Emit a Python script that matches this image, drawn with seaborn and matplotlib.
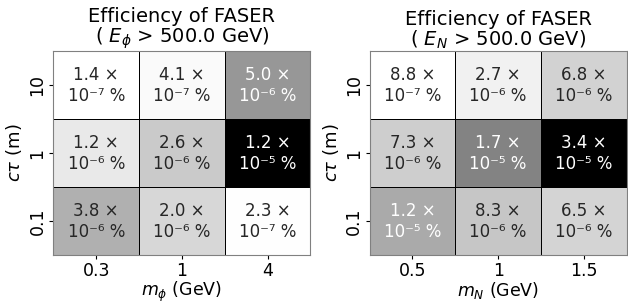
import numpy as np
import matplotlib
matplotlib.use("Agg")
import matplotlib.pyplot as plt
import seaborn as sns

# efficiency (%) rows: c tau = 10, 1, 0.1
ctau_labels = ["10", "1", "0.1"]
mphi_labels = ["0.3", "1", "4"]
mN_labels = ["0.5", "1", "1.5"]

eff_phi = np.array([[1.4e-7, 4.1e-7, 5.0e-6],
                    [1.2e-6, 2.6e-6, 1.2e-5],
                    [3.8e-6, 2.0e-6, 2.3e-7]])
eff_N = np.array([[8.8e-7, 2.7e-6, 6.8e-6],
                  [7.3e-6, 1.7e-5, 3.4e-5],
                  [1.2e-5, 8.3e-6, 6.5e-6]])

SUP = str.maketrans("-0123456789", "⁻⁰¹²³⁴⁵⁶⁷⁸⁹")


def fmt(v):
    e = int(np.floor(np.log10(v)))
    m = v / 10**e
    return f"{m:.1f} ×\n10{str(e).translate(SUP)} %"


def draw(ax, data, xlabels, xname, sub):
    annot = np.vectorize(fmt)(data)
    sns.heatmap(data, ax=ax, cmap="gray_r", annot=annot, fmt="",
                cbar=False, linewidths=0.7, linecolor="black",
                xticklabels=xlabels, yticklabels=ctau_labels,
                annot_kws={"fontsize": 12})
    ax.set_title("Efficiency of FASER\n( $E_{%s}$ > 500.0 GeV)" % sub,
                 fontsize=14, linespacing=1.0, pad=3)
    ax.set_xlabel(xname, fontsize=12.5, labelpad=0)
    ax.set_ylabel(r"$c\tau$ (m)", fontsize=13, labelpad=3)
    ax.tick_params(axis="both", labelsize=12.5, length=3, pad=2)
    ax.tick_params(axis="x", rotation=0)
    for t in ax.get_yticklabels():
        t.set_rotation(90)
        t.set_va("center")
    for s in ax.spines.values():
        s.set_visible(True)
        s.set_color("gray")
        s.set_linewidth(0.8)


fig, axes = plt.subplots(1, 2, figsize=(6.28, 3.01), dpi=100)
draw(axes[0], eff_phi, mphi_labels, r"$m_\phi$ (GeV)", r"\phi")
draw(axes[1], eff_N, mN_labels, r"$m_N$ (GeV)", "N")
fig.subplots_adjust(left=0.085, right=0.998, top=0.83, bottom=0.152, wspace=0.23)
fig.savefig("out.png", dpi=100)
